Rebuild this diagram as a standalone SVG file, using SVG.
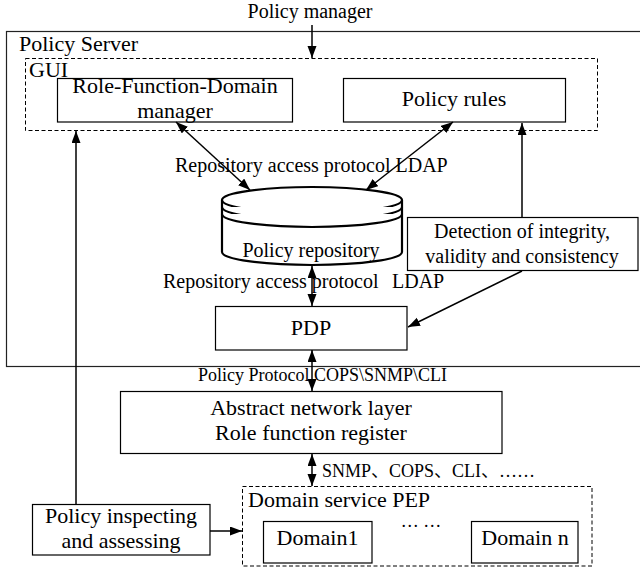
<svg xmlns="http://www.w3.org/2000/svg" width="640" height="574" viewBox="0 0 640 574">
<style>
text{font-family:"Liberation Serif","Times New Roman","Noto Sans CJK SC",serif;fill:#000}
.box{fill:#fff;stroke:#000;stroke-width:1.2}
.dash{fill:none;stroke:#000;stroke-width:1;stroke-dasharray:4 2.5}
.c{stroke:#000;stroke-width:1.5;fill:none}
.cyl{fill:#fff;stroke:#000;stroke-width:2.2}
.l22{font-size:22px}
.l20{font-size:20px}
.l18{font-size:18px}
.mid{text-anchor:middle}
</style>
<defs>
<marker id="ah" markerUnits="userSpaceOnUse" markerWidth="13" markerHeight="10" refX="12" refY="4.5" orient="auto-start-reverse" viewBox="0 0 13 10">
<path d="M0,0 L12,4.5 L0,9 z" fill="#000"/>
</marker>
</defs>
<rect width="640" height="574" fill="#fff"/>

<g id="policy-server">
<rect x="6.5" y="31.5" width="640" height="335" fill="none" stroke="#222" stroke-width="1.2"/>
<text x="19" y="51" class="l22">Policy Server</text>
</g>

<g id="gui">
<rect x="25.5" y="58.5" width="572" height="72" class="dash"/>
<text x="29" y="77" class="l22">GUI</text>
</g>

<g id="role-function-domain">
<rect x="57.5" y="78.5" width="235" height="43.5" class="box"/>
<text x="175" y="93" class="l22 mid">Role-Function-Domain</text>
<text x="175" y="118" class="l22 mid">manager</text>
</g>

<g id="policy-rules">
<rect x="343.5" y="78.5" width="222" height="43.5" class="box"/>
<text x="454" y="106" class="l22 mid">Policy rules</text>
</g>

<g id="policy-manager">
<text x="310" y="18" class="l20 mid">Policy manager</text>
</g>

<g id="policy-repository">
<path class="cyl" d="M222,200 L222,252 A90,13 0 0 0 402,252 L402,200"/>
<ellipse cx="312" cy="200" rx="90" ry="13" class="cyl"/>
<path class="cyl" fill="none" d="M222,207 A90,13 0 0 0 402,207"/>
<path class="cyl" fill="none" d="M222,214 A90,13 0 0 0 402,214"/>
<text x="311" y="257" class="l20 mid">Policy repository</text>
</g>

<g id="detection">
<rect x="407.5" y="217.5" width="230.5" height="53" class="box"/>
<text x="522" y="238" class="l20 mid">Detection of integrity,</text>
<text x="522" y="263" class="l20 mid">validity and consistency</text>
</g>

<g id="pdp">
<rect x="215.5" y="306.5" width="191.5" height="43.5" class="box"/>
<text x="311" y="335" class="l22 mid">PDP</text>
</g>

<g id="abstract-layer">
<rect x="120.5" y="391.5" width="381.5" height="62" class="box"/>
<text x="311" y="415" class="l22 mid">Abstract network layer</text>
<text x="311" y="440" class="l22 mid">Role function register</text>
</g>

<g id="domain-service-pep">
<rect x="242.5" y="486.5" width="349.5" height="79.5" class="dash"/>
<text x="248" y="507" class="l22">Domain service PEP</text>
<text x="421" y="527" class="l18 mid">… …</text>
</g>

<g id="domain1">
<rect x="263.5" y="521.5" width="108.5" height="41.5" class="box"/>
<text x="317.5" y="545" class="l22 mid">Domain1</text>
</g>

<g id="domain-n">
<rect x="471.5" y="521.5" width="106.5" height="41.5" class="box"/>
<text x="525" y="545" class="l22 mid">Domain n</text>
</g>

<g id="policy-inspecting">
<rect x="32.5" y="504.5" width="177.5" height="50.5" class="box"/>
<text x="121" y="523" class="l22 mid">Policy inspecting</text>
<text x="121" y="548" class="l22 mid">and assessing</text>
</g>

<g id="connectors">
<line x1="312" y1="25" x2="312" y2="58" class="c" marker-end="url(#ah)"/>
<line x1="176" y1="122" x2="250" y2="190" class="c" marker-start="url(#ah)" marker-end="url(#ah)"/>
<line x1="453" y1="122" x2="366" y2="190" class="c" marker-start="url(#ah)" marker-end="url(#ah)"/>
<line x1="522" y1="217" x2="522" y2="123" class="c" marker-end="url(#ah)"/>
<line x1="522" y1="271" x2="408" y2="327" class="c" marker-end="url(#ah)"/>
<line x1="312" y1="266" x2="312" y2="306" class="c" marker-start="url(#ah)" marker-end="url(#ah)"/>
<line x1="312" y1="350" x2="312" y2="391" class="c" marker-start="url(#ah)" marker-end="url(#ah)"/>
<line x1="312" y1="454" x2="312" y2="486" class="c" marker-start="url(#ah)" marker-end="url(#ah)"/>
<line x1="76" y1="504" x2="76" y2="131" class="c" marker-end="url(#ah)"/>
<line x1="210" y1="531" x2="242" y2="531" class="c" marker-end="url(#ah)"/>
</g>

<g id="labels">
<text x="175" y="172" class="l20">Repository access protocol LDAP</text>
<text y="288" class="l20"><tspan x="163">Repository access protocol</tspan><tspan x="392">LDAP</tspan></text>
<text x="198" y="381" class="l18">Policy Protocol COPS\SNMP\CLI</text>
<text x="322" y="477" class="l18">SNMP、COPS、CLI、……</text>
</g>
</svg>
